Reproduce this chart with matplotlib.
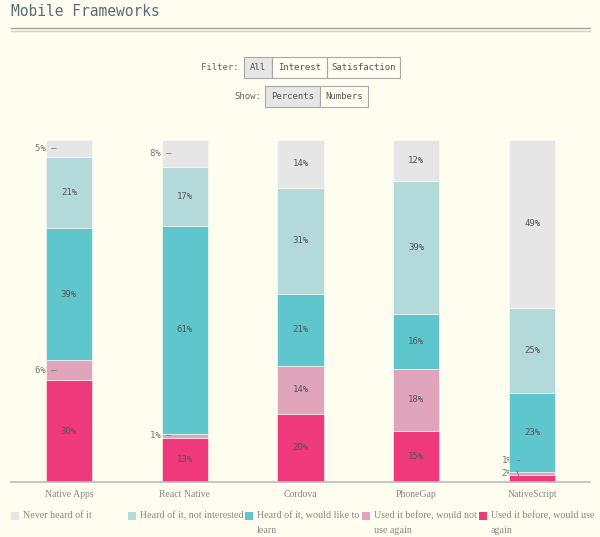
import numpy as np
import matplotlib.pyplot as plt
from matplotlib.patches import Rectangle
from matplotlib.lines import Line2D

frameworks = ['Native Apps', 'React Native', 'Cordova', 'PhoneGap', 'NativeScript']
answers = ['Never heard of it', 'Heard of it, not interested',
           'Heard of it, would like to\nlearn', 'Used it before, would not\nuse again',
           'Used it before, would use\nagain']
# percentages per framework, order: never, not interested, would learn, not again, again
never = [5, 8, 14, 12, 49]
not_interested = [21, 17, 31, 39, 25]
would_learn = [39, 61, 21, 16, 23]
not_again = [6, 1, 14, 18, 1]
again = [30, 13, 20, 15, 2]

colors = ['#e6e6e6', '#b3d9da', '#5fc6ce', '#e0a4bc', '#ee3a7a']
bg = '#fffdf0'
mono = 'DejaVu Sans Mono'
serif = 'Liberation Serif'

W, H = 600, 537
fig = plt.figure(figsize=(6, 5.37), dpi=100, facecolor=bg)


def fx(px):
    return px / W


def fy(py):
    return 1 - py / H


# title and double rule
fig.text(fx(11), fy(12), 'Mobile Frameworks', family=mono, fontsize=10.5, color='#5b6b78', va='center')
fig.add_artist(Line2D([fx(11), fx(590)], [fy(27.5), fy(27.5)], color='#a3a697', lw=1.0))
fig.add_artist(Line2D([fx(11), fx(590)], [fy(30.5), fy(30.5)], color='#d2d2ca', lw=1.0))


def buttons(label, label_x, y, items, x0):
    fig.text(fx(label_x), fy(y), label, family=mono, fontsize=6.5, color='#666666', ha='right', va='center')
    x = x0
    for i, (txt, w) in enumerate(items):
        fc = '#e6e6e6' if i == 0 else bg
        fig.add_artist(Rectangle((fx(x), fy(y + 10.5)), fx(w), 21 / H, facecolor=fc,
                                 edgecolor='#a8a8a8', lw=0.8, transform=fig.transFigure))
        fig.text(fx(x + w / 2), fy(y), txt, family=mono, fontsize=6.5, color='#555555',
                 ha='center', va='center')
        x += w


buttons('Filter:', 239, 67.5, [('All', 28), ('Interest', 55), ('Satisfaction', 73)], 244)
buttons('Show:', 261, 96.5, [('Percents', 55), ('Numbers', 48)], 265)

# chart
ax = fig.add_axes([fx(11), fy(482), fx(590) - fx(11), (482 - 140) / H])
ax.set_facecolor(bg)
series = np.array([never, not_interested, would_learn, not_again, again], dtype=float)
totals = series.sum(axis=0)
share = series / totals * 100
x = np.arange(len(frameworks))
bottom = np.zeros(len(frameworks))
for k in range(4, -1, -1):
    ax.bar(x, share[k], 0.4, bottom=bottom, color=colors[k], edgecolor='#fffdf0', lw=0.4, zorder=2)
    for i in range(len(frameworks)):
        v = int(series[k, i])
        mid = bottom[i] + share[k, i] / 2
        if v >= 10:
            ax.text(x[i], mid, f'{v}%', family=mono, fontsize=6.5, color='#555555',
                    ha='center', va='center', zorder=3)
        elif frameworks[i] == 'NativeScript':
            # crowded labels, tucked under the bar's left edge
            ty = 6.4 if k == 3 else 2.6
            ax.text(x[i] - 0.17, ty, f'{v}%', family=mono, fontsize=6.5, color='#777777',
                    ha='right', va='center', zorder=1)
            ax.plot([x[i] - 0.13, x[i] - 0.11], [ty + 0.6, ty - 1.6] if k == 4 else [ty, ty],
                    color='#777777', lw=0.6, zorder=3)
        else:
            ax.text(x[i] - 0.11, mid, f'{v}% \u2013', family=mono, fontsize=6.5, color='#777777',
                    ha='right', va='center', zorder=3)
    bottom += share[k]

ax.set_xlim(-0.5, 4.5)
ax.set_ylim(0, 100)
for s in ['top', 'left', 'right']:
    ax.spines[s].set_visible(False)
ax.spines['bottom'].set_color('#bbbbbb')
ax.spines['bottom'].set_linewidth(1.2)
ax.set_yticks([])
ax.set_xticks(x)
ax.set_xticklabels(frameworks, family=serif, fontsize=7, color='#888888')
ax.tick_params(axis='x', length=0, pad=6)

# legend
for j, name in enumerate(answers):
    lx = 11 + j * 117
    fig.add_artist(Rectangle((fx(lx), fy(520)), fx(8), 8 / H, facecolor=colors[j],
                             edgecolor='none', transform=fig.transFigure))
    fig.text(fx(lx + 12), fy(510.5), name, family=serif, fontsize=7.2, color='#888888',
             ha='left', va='top', linespacing=1.85)

fig.savefig('out.png', dpi=100, facecolor=bg)
